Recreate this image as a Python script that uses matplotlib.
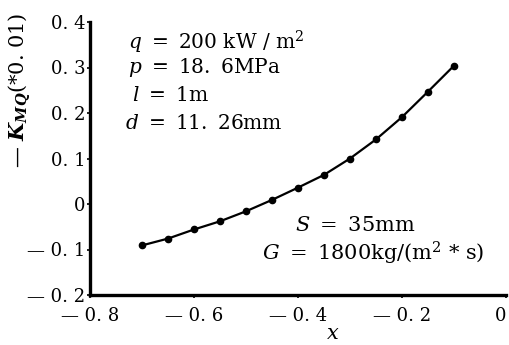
import numpy as np
import matplotlib.pyplot as plt
from matplotlib.ticker import FuncFormatter

plt.rcParams['font.family'] = 'DejaVu Serif'
plt.rcParams['mathtext.fontset'] = 'dejavuserif'

# quality x and -K_MQ values (x 0.01)
x = [-0.70, -0.65, -0.60, -0.55, -0.50, -0.45, -0.40, -0.35, -0.30, -0.25, -0.20, -0.15, -0.10]
k = [-0.091, -0.076, -0.056, -0.038, -0.016, 0.009, 0.036, 0.064, 0.100, 0.142, 0.191, 0.247, 0.304]
xticks = [-0.8, -0.6, -0.4, -0.2, 0.0]
yticks = [-0.2, -0.1, 0.0, 0.1, 0.2, 0.3, 0.4]


def fmt(v, pos=None):
    if abs(v) < 1e-9:
        return '0'
    s = '%.1f' % abs(v)
    s = s.replace('.', '. ')
    return ('\u2014 ' + s) if v < 0 else s


fig = plt.figure(figsize=(5.09, 3.45), dpi=100)
ax = fig.add_axes([90 / 509, 50 / 345, 416 / 509, 273 / 345])

ax.plot(x, k, color='black', lw=1.6, marker='o', ms=4.5)

ax.set_xlim(-0.8, 0.0)
ax.set_ylim(-0.2, 0.4)
ax.set_xticks(xticks)
ax.set_yticks(yticks)
ax.xaxis.set_major_formatter(FuncFormatter(fmt))
ax.yaxis.set_major_formatter(FuncFormatter(fmt))
ax.tick_params(labelsize=13, length=2.5, width=1.2)
ax.tick_params(axis='x', pad=6)
ax.tick_params(axis='y', pad=1)
ax.xaxis.get_major_ticks()[-1].label1.set_horizontalalignment('right')

for s in ['top', 'right']:
    ax.spines[s].set_visible(False)
for s in ['left', 'bottom']:
    ax.spines[s].set_linewidth(2.4)

ax.set_xlabel('$x$', fontsize=15)
ax.xaxis.set_label_coords(0.584, -0.105)
fig.text(20 / 509, 1 - 90 / 345, '\u2014 $\\boldsymbol{K}_{\\boldsymbol{MQ}}$(*0. 01)',
         rotation=90, fontsize=15, ha='center', va='center')

fs = 14.5
ax.text(0.091, 0.927, '$q\\ =\\ 200$ kW / m$^2$', transform=ax.transAxes, fontsize=fs, va='center')
ax.text(0.091, 0.832, '$p\\ =\\ 18.\\ 6$MPa', transform=ax.transAxes, fontsize=fs, va='center')
ax.text(0.101, 0.729, '$l\\ =\\ 1$m', transform=ax.transAxes, fontsize=fs, va='center')
ax.text(0.084, 0.630, '$d\\ =\\ 11.\\ 26$mm', transform=ax.transAxes, fontsize=fs, va='center')

ax.text(0.493, 0.256, '$S\\ =\\ 35$mm', transform=ax.transAxes, fontsize=15, va='center')
ax.text(0.413, 0.154, '$G\\ =\\ 1800$kg/(m$^2$ * s)', transform=ax.transAxes, fontsize=15, va='center')

fig.savefig('out.png', dpi=100)
